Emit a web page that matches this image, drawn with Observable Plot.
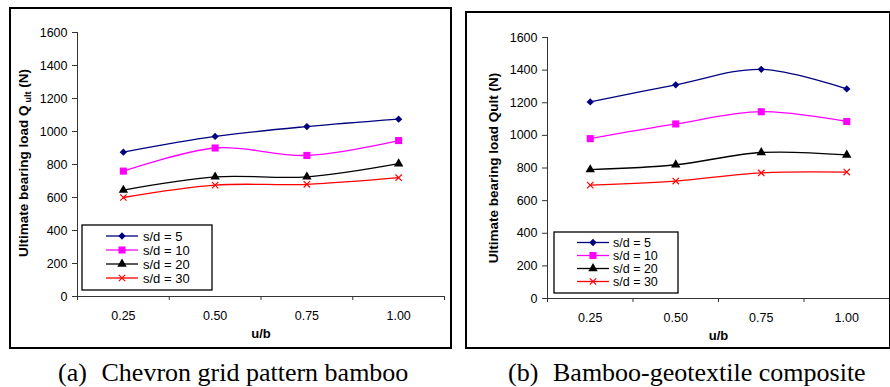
<!DOCTYPE html>
<html><head><meta charset="utf-8">
<script src="https://cdn.jsdelivr.net/npm/d3@7"></script>
<script src="https://cdn.jsdelivr.net/npm/@observablehq/plot@0.6"></script>
<style>
body{margin:0;background:#fff;}
#wrap{position:relative;width:890px;height:387px;overflow:hidden;font-family:"Liberation Sans",Arial,sans-serif;}
.panel{position:absolute;}
.box{position:absolute;border:2px solid #000;box-sizing:border-box;pointer-events:none;}
#caps{position:absolute;left:0;top:0;}
</style></head><body><div id="wrap"></div>
<script>
// ---- data ----
const uB = [0.25, 0.50, 0.75, 1.00];
const seriesNames = ["s/d = 5", "s/d = 10", "s/d = 20", "s/d = 30"];
const yTicks = [0, 200, 400, 600, 800, 1000, 1200, 1400, 1600];
const chevronSd5  = [875, 970, 1030, 1075];
const chevronSd10 = [760, 900, 855, 945];
const chevronSd20 = [645, 725, 725, 805];
const chevronSd30 = [600, 675, 680, 720];
const compositeSd5  = [1205, 1310, 1405, 1285];
const compositeSd10 = [980, 1070, 1145, 1085];
const compositeSd20 = [790, 820, 895, 880];
const compositeSd30 = [695, 720, 770, 775];
const xLabel = "u/b";
const yLabelA = ["Ultimate bearing load Q", "ult", " (N)"];
const yLabelB = ["Ultimate bearing load Qult (N)"];
const captionA = ["(a)", "Chevron grid pattern bamboo"];
const captionB = ["(b)", "Bamboo-geotextile composite"];

// ---- styles ----
const colors = ["#000080", "#FF00FF", "#000000", "#FF0000"];
const symbols = ["diamond2", "square", "triangle", "times"];
const symR = [3.3, 4.0, 3.5, 3.0];
const d3Sym = [d3.symbolDiamond2, d3.symbolSquare, d3.symbolTriangle, d3.symbolTimes];

const half = (uB[1] - uB[0]) / 2;
const bounds = uB.map(v => v - half).concat([uB[uB.length - 1] + half]);

function rowsOf(seriesArrays) {
  const rows = [];
  seriesArrays.forEach((arr, si) => arr.forEach((q, i) => rows.push({u: uB[i], q, series: seriesNames[si]})));
  return rows;
}

function panel(seriesArrays, cfg) {
  const rows = rowsOf(seriesArrays);
  const dots = seriesNames.map((s, si) => Plot.dot(rows.filter(r => r.series === s), {
    x: "u", y: "q", symbol: () => symbols[si], r: symR[si],
    fill: si === 3 ? "none" : colors[si], stroke: si === 3 ? colors[si] : "none", strokeWidth: 1.2
  }));
  const marks = [
    Plot.ruleY([0], {stroke: "#333"}),
    Plot.ruleX([bounds[0]], {stroke: "#333"}),
    Plot.axisY({ticks: yTicks, tickSize: 5, tickPadding: 5, fontSize: 12.5, stroke: "#333", label: null, tickFormat: d3.format("d")}),
    Plot.axisX({ticks: bounds, tickSize: 4, tickFormat: () => "", label: null, stroke: "#333"}),
    Plot.axisX({ticks: uB, tickSize: 0, tickPadding: 15, tickFormat: d3.format(".2f"), label: null, fontSize: 12.5}),
    Plot.line(rows, {x: "u", y: "q", z: "series", stroke: "series", curve: "cardinal", strokeWidth: 1.3}),
    ...dots,
    Plot.text([xLabel], {text: d => d, frameAnchor: "bottom", dy: 41, fontWeight: "bold", fontSize: 13})
  ];
  return Plot.plot({
    width: cfg.width, height: cfg.height,
    marginLeft: cfg.ml, marginRight: cfg.mr, marginTop: cfg.mt, marginBottom: cfg.mb,
    style: {fontFamily: "'Liberation Sans', Arial, sans-serif", color: "#000", background: "transparent", overflow: "visible"},
    x: {domain: [bounds[0], bounds[bounds.length - 1]], axis: null},
    y: {domain: [0, 1600], axis: null},
    color: {domain: seriesNames, range: colors},
    marks
  });
}

function legend(svg, lg) {
  const g = d3.select(svg).append("g").attr("text-anchor", "start");
  g.append("rect").attr("x", lg.x).attr("y", lg.y).attr("width", lg.w).attr("height", lg.h)
    .attr("fill", "#fff").attr("stroke", "#000").attr("stroke-width", 1.3);
  seriesNames.forEach((s, i) => {
    const y = lg.rows[i];
    g.append("line").attr("x1", lg.l1).attr("x2", lg.l2).attr("y1", y).attr("y2", y)
      .attr("stroke", colors[i]).attr("stroke-width", 1.3);
    g.append("path").attr("transform", `translate(${(lg.l1 + lg.l2) / 2},${y})`)
      .attr("d", d3.symbol(d3Sym[i], symR[i] * symR[i] * Math.PI)())
      .attr("fill", i === 3 ? "none" : colors[i]).attr("stroke", i === 3 ? colors[i] : "none").attr("stroke-width", 1.2);
    g.append("text").attr("x", lg.tx).attr("y", y).attr("dy", "0.36em")
      .attr("font-size", lg.fs).attr("fill", "#000").text(s);
  });
}

function yLabel(svg, parts, cx, cy) {
  const t = d3.select(svg).append("text")
    .attr("transform", `translate(${cx},${cy}) rotate(-90)`)
    .attr("text-anchor", "middle").attr("dy", "0.35em")
    .attr("font-weight", "bold").attr("font-size", 13.5).attr("fill", "#000");
  t.append("tspan").text(parts[0]);
  if (parts.length > 1) {
    t.append("tspan").attr("font-size", 9).attr("dx", 3).attr("dy", 3).text(parts[1]);
    t.append("tspan").attr("dy", -3).text(parts[2]);
  }
}

const wrap = d3.select("#wrap");

// captions layer
const caps = wrap.append("svg").attr("id", "caps").attr("width", 890).attr("height", 387);
[[captionA, 58, 101.5], [captionB, 508, 553]].forEach(([c, x1, x2]) => {
  const t = caps.append("text").attr("y", 381).attr("font-family", "'Liberation Serif', 'Times New Roman', serif").attr("font-size", 26).attr("fill", "#000");
  t.append("tspan").attr("x", x1).text(c[0]);
  t.append("tspan").attr("x", x2).text(c[1]);
});

// left panel
const A = {left: 9, top: 7, width: 443, height: 342};
const svgA = panel([chevronSd5, chevronSd10, chevronSd20, chevronSd30], {width: A.width, height: A.height, ml: 68, mr: 8, mt: 25, mb: 53});
legend(svgA, {x: 73, y: 218, w: 130, h: 65, rows: [229, 243, 257, 271], l1: 97, l2: 129, tx: 134, fs: 13});
yLabel(svgA, yLabelA, 23 - A.left, 163 - A.top);
const divA = wrap.append("div").attr("class", "panel").style("left", A.left + "px").style("top", A.top + "px");
divA.node().appendChild(svgA);
wrap.append("div").attr("class", "box").style("left", A.left + "px").style("top", A.top + "px").style("width", A.width + "px").style("height", A.height + "px");

// right panel
const B = {left: 465, top: 11, width: 424, height: 338};
const svgB = panel([compositeSd5, compositeSd10, compositeSd20, compositeSd30], {width: B.width, height: B.height, ml: 82, mr: 0, mt: 26, mb: 51});
legend(svgB, {x: 89, y: 221, w: 124, h: 61, rows: [231.5, 244.5, 257.5, 270.5], l1: 112, l2: 144, tx: 148, fs: 12.5});
yLabel(svgB, yLabelB, 493 - B.left, 168 - B.top);
const divB = wrap.append("div").attr("class", "panel").style("left", B.left + "px").style("top", B.top + "px");
divB.node().appendChild(svgB);
wrap.append("div").attr("class", "box").style("left", B.left + "px").style("top", B.top + "px").style("width", (B.width + 2) + "px").style("height", B.height + "px");
</script></body></html>
